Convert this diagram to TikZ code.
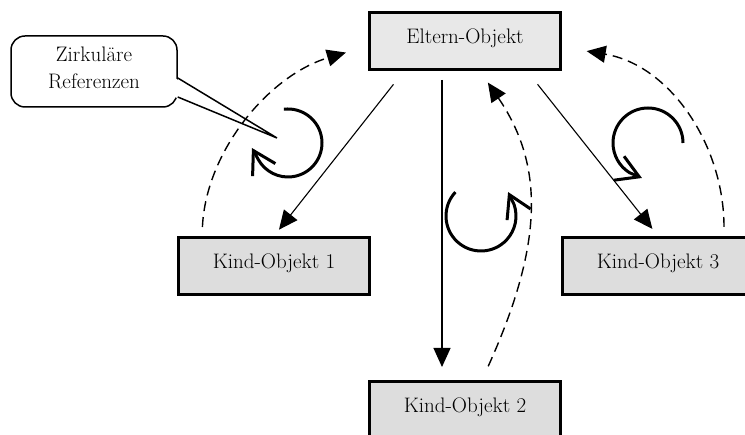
\documentclass[tikz,border=0pt]{standalone}
\usepackage{tikz}
\usetikzlibrary{arrows.meta,positioning}

\begin{document}
\begin{tikzpicture}[
  x=1pt, y=1pt,
  every node/.style={font=\fontsize{21}{27}\selectfont},
  obj/.style={draw, line width=3pt, minimum width=191pt, minimum height=57pt, inner sep=0pt, text depth=10pt},
  arr/.style={line width=1.1pt, -{Triangle[length=19pt,width=17pt]}},
  ref/.style={line width=1.4pt, dash pattern=on 10pt off 6pt, -{Triangle[length=19pt,width=17pt]}},
  kreis/.style={line width=3pt, -{Straight Barb[length=22pt,width=26pt]}}
]
\useasboundingbox (0,0) rectangle (745,435);
% the objects
\node[obj, fill=gray!18] (eltern) at (465,394) {Eltern-Objekt};
\node[obj, fill=gray!27, below=165pt of eltern, xshift=-191pt] (kind1) {Kind-Objekt 1};
\node[obj, fill=gray!27, below=309pt of eltern] (kind2) {Kind-Objekt 2};
\node[obj, fill=gray!27, below=165pt of eltern, xshift=193pt] (kind3) {Kind-Objekt 3};
% callout
\node[draw, line width=1.5pt, rounded corners=14pt, minimum width=166pt, minimum height=71pt, align=center, text depth=8pt] (hinweis) at (94,363.5) {Zirkuläre\\Referenzen};
\coordinate (zeiger) at (277,297);
\fill[white] ([xshift=-3pt,yshift=-6.5pt]hinweis.east) -- (zeiger) -- ([xshift=-3pt,yshift=-25.5pt]hinweis.east) -- cycle;
\draw[line width=1.5pt] ([yshift=-6.5pt]hinweis.east) -- (zeiger) -- ([yshift=-25.5pt]hinweis.east);
% parent to children
\draw[arr, shorten <=17pt, shorten >=8pt] ([xshift=-61pt]eltern.south) -- (kind1.north);
\draw[arr, shorten <=9pt, shorten >=13pt] ([xshift=-23pt]eltern.south) -- ([xshift=-23pt]kind2.north);
\draw[arr, shorten <=17pt, shorten >=9pt] ([xshift=62pt]eltern.south) -- (kind3.north);
% references back to the parent
\draw[ref, shorten <=9pt, shorten >=23pt] ([xshift=-72pt]kind1.north) .. controls (206,285) and (270,360) .. ([yshift=-5pt]eltern.west);
\draw[ref, shorten <=15pt, shorten >=14pt] ([xshift=17pt]kind2.north) .. controls (544,192) and (544,270) .. ([xshift=15pt]eltern.south);
\draw[ref, shorten <=9pt, shorten >=25pt] ([xshift=66pt]kind3.north) .. controls (724,290) and (670,370) .. ([yshift=-6pt]eltern.east);
% circular marks
\draw[kreis] (288,292) ++(97:34) arc[start angle=97, end angle=-150, radius=34] -- ++(-6.6,12);
\draw[kreis] (481,219) ++(137:35) arc[start angle=137, end angle=379, radius=35] -- ++(-6,12.6);
\draw[kreis] (648,292) ++(0:35) arc[start angle=0, end angle=238, radius=35] -- ++(12.5,-5.3);
\end{tikzpicture}
\end{document}
